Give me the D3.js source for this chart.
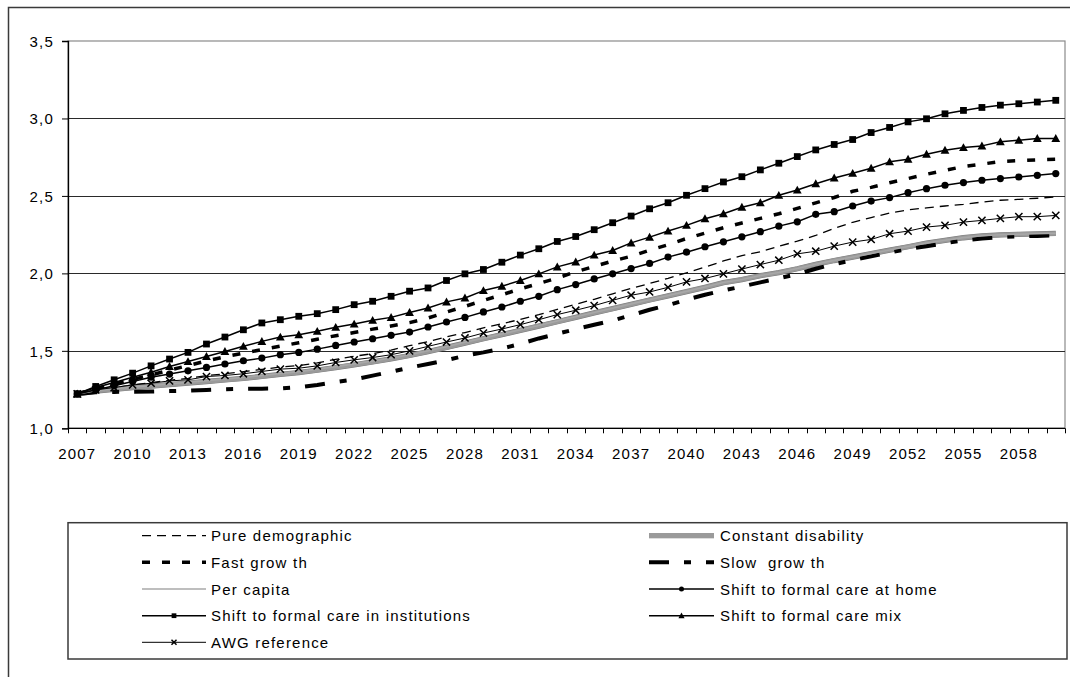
<!DOCTYPE html>
<html>
<head>
<meta charset="utf-8">
<script src="https://cdn.jsdelivr.net/npm/d3@7"></script>
<style>
  html, body { margin: 0; padding: 0; background: #fff; }
  svg { display: block; }
  text { font-family: "Liberation Sans", Arial, sans-serif; font-size: 15px; letter-spacing: 1.2px; fill: #000; }
</style>
</head>
<body>
<svg id="chart" width="1070" height="677"></svg>
<script>
const years = d3.range(2007, 2061);
const yTicks = [1.0, 1.5, 2.0, 2.5, 3.0, 3.5];
const xLabelYears = [2007, 2010, 2013, 2016, 2019, 2022, 2025, 2028, 2031, 2034, 2037, 2040, 2043, 2046, 2049, 2052, 2055, 2058];

const pureDemographic = [1.222,1.245,1.262,1.280,1.295,1.310,1.322,1.340,1.352,1.365,
  1.380,1.395,1.405,1.422,1.445,1.465,1.482,1.505,1.533,1.560,
  1.590,1.618,1.648,1.675,1.703,1.733,1.768,1.800,1.833,1.868,
  1.903,1.935,1.968,2.004,2.040,2.080,2.115,2.140,2.175,2.208,
  2.245,2.290,2.330,2.360,2.390,2.410,2.423,2.435,2.446,2.460,
  2.472,2.478,2.485,2.493];
const constantDisability = [1.222,1.240,1.252,1.262,1.272,1.282,1.292,1.302,1.312,1.322,
  1.335,1.348,1.360,1.375,1.392,1.410,1.428,1.448,1.470,1.495,
  1.522,1.550,1.578,1.605,1.632,1.660,1.688,1.716,1.745,1.772,
  1.800,1.828,1.855,1.882,1.910,1.940,1.960,1.985,2.005,2.030,
  2.058,2.083,2.105,2.127,2.150,2.172,2.195,2.213,2.230,2.242,
  2.248,2.252,2.255,2.258];
const fastGrowth = [1.222,1.255,1.285,1.315,1.345,1.375,1.405,1.435,1.462,1.485,
  1.508,1.530,1.552,1.575,1.598,1.618,1.640,1.660,1.682,1.712,
  1.750,1.787,1.825,1.862,1.900,1.935,1.970,2.010,2.045,2.080,
  2.110,2.150,2.185,2.225,2.260,2.295,2.325,2.355,2.385,2.420,
  2.455,2.490,2.530,2.555,2.585,2.612,2.640,2.665,2.690,2.705,
  2.722,2.728,2.733,2.737];
const slowGrowth = [1.222,1.232,1.235,1.236,1.237,1.240,1.243,1.247,1.252,1.255,
  1.256,1.258,1.265,1.280,1.298,1.315,1.340,1.365,1.392,1.415,
  1.440,1.468,1.490,1.515,1.545,1.580,1.610,1.640,1.668,1.695,
  1.730,1.765,1.795,1.830,1.862,1.890,1.915,1.942,1.968,1.995,
  2.030,2.060,2.085,2.110,2.135,2.158,2.175,2.195,2.212,2.225,
  2.235,2.240,2.242,2.245];
const perCapita = [1.222,1.242,1.255,1.266,1.276,1.287,1.297,1.307,1.318,1.328,
  1.341,1.354,1.366,1.381,1.398,1.416,1.434,1.454,1.475,1.500,
  1.527,1.555,1.582,1.609,1.636,1.664,1.692,1.720,1.748,1.775,
  1.803,1.830,1.857,1.884,1.912,1.941,1.961,1.986,2.006,2.031,
  2.059,2.084,2.106,2.128,2.151,2.173,2.196,2.214,2.231,2.243,
  2.249,2.253,2.256,2.259];
const formalHome = [1.222,1.248,1.274,1.302,1.330,1.350,1.371,1.393,1.415,1.436,
  1.453,1.475,1.490,1.511,1.535,1.557,1.578,1.600,1.621,1.654,
  1.686,1.716,1.751,1.783,1.820,1.852,1.895,1.928,1.964,1.997,
  2.031,2.064,2.105,2.137,2.172,2.204,2.236,2.269,2.305,2.333,
  2.381,2.398,2.435,2.467,2.489,2.521,2.547,2.569,2.586,2.601,
  2.612,2.622,2.633,2.644];
const formalInstitutions = [1.222,1.270,1.313,1.356,1.403,1.447,1.490,1.544,1.589,1.636,
  1.680,1.701,1.723,1.740,1.766,1.798,1.820,1.852,1.885,1.906,
  1.954,1.997,2.025,2.072,2.118,2.159,2.206,2.238,2.282,2.327,
  2.370,2.417,2.456,2.504,2.547,2.590,2.624,2.668,2.711,2.754,
  2.797,2.832,2.864,2.909,2.942,2.978,2.998,3.030,3.052,3.071,
  3.086,3.095,3.106,3.117];
const formalMix = [1.222,1.263,1.296,1.330,1.362,1.399,1.431,1.464,1.496,1.529,
  1.561,1.589,1.604,1.626,1.652,1.673,1.697,1.716,1.748,1.777,
  1.816,1.841,1.889,1.917,1.954,1.997,2.042,2.074,2.118,2.148,
  2.197,2.234,2.273,2.310,2.353,2.385,2.427,2.456,2.504,2.538,
  2.579,2.616,2.646,2.679,2.720,2.737,2.769,2.795,2.812,2.823,
  2.849,2.860,2.871,2.871];
const awgReference = [1.222,1.248,1.263,1.280,1.291,1.306,1.313,1.334,1.341,1.352,
  1.367,1.382,1.388,1.403,1.425,1.442,1.457,1.475,1.500,1.529,
  1.557,1.583,1.615,1.641,1.669,1.701,1.734,1.762,1.792,1.826,
  1.859,1.880,1.910,1.945,1.967,1.997,2.028,2.057,2.085,2.126,
  2.143,2.176,2.202,2.219,2.256,2.273,2.299,2.310,2.331,2.342,
  2.355,2.366,2.366,2.374];

const seriesNames = ["Pure demographic", "Constant disability", "Fast grow th", "Slow  grow th",
  "Per capita", "Shift to formal care at home", "Shift to formal care in institutions",
  "Shift to formal care mix", "AWG reference"];
const seriesValues = [pureDemographic, constantDisability, fastGrowth, slowGrowth,
  perCapita, formalHome, formalInstitutions, formalMix, awgReference];

const styles = [
  { stroke: "#000", width: 1.3, dash: "9,6", marker: null },
  { stroke: "#9a9a9a", width: 4.5, dash: null, marker: null, under: "#7a7a7a" },
  { stroke: "#000", width: 3.5, dash: "8,12", marker: null },
  { stroke: "#000", width: 4, dash: "20,15,7,15", marker: null },
  { stroke: "#a8a8a8", width: 1.6, dash: null, marker: null },
  { stroke: "#000", width: 1.5, dash: null, marker: "circle" },
  { stroke: "#000", width: 1.5, dash: null, marker: "square" },
  { stroke: "#000", width: 1.5, dash: null, marker: "triangle" },
  { stroke: "#000", width: 1, dash: null, marker: "cross" }
];

const svg = d3.select("#chart");
const plotLeft = 68, plotRight = 1065, plotTop = 41, plotBottom = 428.3;

const x = d3.scaleBand().domain(years).range([plotLeft, plotRight]).paddingInner(0).paddingOuter(0);
const y = d3.scaleLinear().domain([1, 3.5]).range([plotBottom, plotTop]);
const cx = d => x(d) + x.bandwidth() / 2;

// outer chart frame (extends beyond the visible window on right/bottom)
svg.append("rect").attr("x", 8.5).attr("y", 7.5).attr("width", 1100).attr("height", 700)
  .attr("fill", "none").attr("stroke", "#3a3a3a").attr("stroke-width", 1.5);

// plot area border (grey)
svg.append("rect").attr("x", plotLeft).attr("y", plotTop).attr("width", plotRight - plotLeft).attr("height", plotBottom - plotTop)
  .attr("fill", "none").attr("stroke", "#8a8a8a").attr("stroke-width", 1.2);

// gridlines
svg.append("g").selectAll("line").data(yTicks.filter(v => v > 1 && v < 3.5)).join("line")
  .attr("x1", plotLeft).attr("x2", plotRight)
  .attr("y1", d => Math.round(y(d)) + 0.5).attr("y2", d => Math.round(y(d)) + 0.5)
  .attr("stroke", "#2a2a2a").attr("stroke-width", 1);

// Y axis
const yAxis = d3.axisLeft(y).tickValues(yTicks).tickSize(6).tickPadding(8)
  .tickFormat(d => d.toFixed(1).replace(".", ","));
const gy = svg.append("g").attr("transform", `translate(${plotLeft},0)`).call(yAxis);
gy.select(".domain").attr("stroke", "#000").attr("stroke-width", 1.3);
gy.selectAll(".tick line").attr("stroke", "#000");
gy.selectAll(".tick text").style("font-family", '"Liberation Sans", Arial, sans-serif')
  .style("font-size", "15px").style("letter-spacing", "1.2px").attr("dy", "0.36em");

// X axis: labels every third year, tick marks between categories
const xAxis = d3.axisBottom(x).tickValues(xLabelYears).tickSize(0).tickPadding(20);
const gx = svg.append("g").attr("transform", `translate(0,${plotBottom})`).call(xAxis);
gx.select(".domain").remove();
gx.selectAll(".tick text").style("font-family", '"Liberation Sans", Arial, sans-serif')
  .style("font-size", "15px").style("letter-spacing", "1.2px");
svg.append("line").attr("x1", plotLeft).attr("x2", plotRight).attr("y1", plotBottom).attr("y2", plotBottom)
  .attr("stroke", "#000").attr("stroke-width", 1.3);
const boundaries = years.map(d => x(d)).concat([plotRight]);
svg.append("g").selectAll("line").data(boundaries).join("line")
  .attr("x1", d => Math.round(d) + 0.5).attr("x2", d => Math.round(d) + 0.5)
  .attr("y1", plotBottom).attr("y2", plotBottom + 5)
  .attr("stroke", "#000").attr("stroke-width", 1);

// marker drawing
function drawMarker(g, type, px, py, scale) {
  const s = scale || 1;
  if (type === "circle") {
    g.append("circle").attr("cx", px).attr("cy", py).attr("r", 3.6 * s).attr("fill", "#000");
  } else if (type === "square") {
    const h = 3.4 * s;
    g.append("rect").attr("x", px - h).attr("y", py - h).attr("width", 2 * h).attr("height", 2 * h).attr("fill", "#000");
  } else if (type === "triangle") {
    const h = 4.4 * s;
    g.append("path").attr("d", `M${px},${py - h}L${px + h},${py + h * 0.8}L${px - h},${py + h * 0.8}Z`).attr("fill", "#000");
  } else if (type === "cross") {
    const h = 3.6 * s;
    g.append("path").attr("d", `M${px - h},${py - h}L${px + h},${py + h}M${px - h},${py + h}L${px + h},${py - h}`)
      .attr("stroke", "#000").attr("stroke-width", 1.5).attr("fill", "none");
  }
}

const lineGen = d3.line().x((d, i) => cx(years[i])).y(d => y(d));
const plot = svg.append("g");
seriesValues.forEach((vals, k) => {
  const st = styles[k];
  if (st.under) {
    plot.append("path").attr("d", lineGen(vals)).attr("fill", "none")
      .attr("stroke", st.under).attr("stroke-width", st.width + 0.8);
  }
  plot.append("path").attr("d", lineGen(vals)).attr("fill", "none")
    .attr("stroke", st.stroke).attr("stroke-width", st.width)
    .attr("stroke-dasharray", st.dash).attr("stroke-linejoin", "round");
  if (st.marker) {
    const mg = plot.append("g");
    vals.forEach((v, i) => drawMarker(mg, st.marker, cx(years[i]), y(v), 1));
  }
});

// legend
const legX = 68, legY = 522.7, legW = 999, legH = 136.3;
svg.append("rect").attr("x", legX).attr("y", legY).attr("width", legW).attr("height", legH)
  .attr("fill", "#fff").attr("stroke", "#3a3a3a").attr("stroke-width", 1.5);
const colLine = [[142, 206], [649, 714]];
const colText = [211, 720];
const rowY = [535.7, 562.3, 589, 615.7, 642.3];
const lg = svg.append("g");
seriesNames.forEach((name, k) => {
  const col = k % 2, row = Math.floor(k / 2);
  const st = styles[k];
  const ly = rowY[row];
  const [x1, x2] = colLine[col];
  if (st.under) {
    lg.append("line").attr("x1", x1).attr("x2", x2).attr("y1", ly).attr("y2", ly)
      .attr("stroke", st.under).attr("stroke-width", st.width + 0.6);
  }
  lg.append("line").attr("x1", x1).attr("x2", x2).attr("y1", ly).attr("y2", ly)
    .attr("stroke", st.stroke).attr("stroke-width", st.width).attr("stroke-dasharray", st.dash);
  if (st.marker) drawMarker(lg, st.marker, (x1 + x2) / 2, ly, 0.7);
  lg.append("text").attr("x", colText[col]).attr("y", ly + 5.5)
    .attr("xml:space", "preserve").style("white-space", "pre").text(name);
});
</script>
</body>
</html>
